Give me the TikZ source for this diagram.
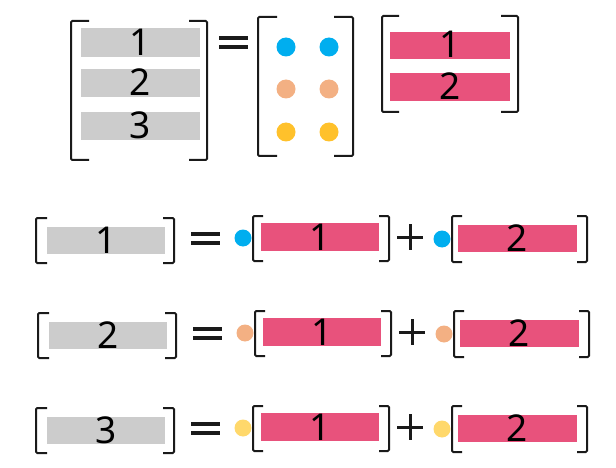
\documentclass[tikz,border=0pt]{standalone}
\usepackage{fontspec}
\setmainfont{Noto Sans}
\definecolor{barg}{HTML}{CCCCCC}
\definecolor{barp}{HTML}{E8527C}
\definecolor{dblue}{HTML}{00AEEF}
\definecolor{dpeach}{HTML}{F3B083}
\definecolor{dyel}{HTML}{FFC12B}
\definecolor{dyellight}{HTML}{FFD86B}
\definecolor{ink}{HTML}{1A1A1A}
\newcommand\mybrk[5]{% x1 y1 x2 y2 serif
  \draw[brk] ({#1+#5},#2) -- (#1,#2) -- (#1,#4) -- ({#1+#5},#4);
  \draw[brk] ({#3-#5},#2) -- (#3,#2) -- (#3,#4) -- ({#3-#5},#4);
}
\tikzset{
  brk/.style={draw=ink, line width=2pt, rounded corners=1.2pt},
  sym/.style={draw=ink, line width=3.4pt},
  bar/.style={rectangle, inner sep=0pt, draw=none},
  num/.style={font=\fontsize{37}{37}\selectfont, text=black, inner sep=0pt, anchor=base},
  dot/.style={circle, inner sep=0pt, draw=none},
}
\begin{document}
\begin{tikzpicture}[x=1pt,y=-1pt]
\useasboundingbox (0,0) rectangle (616,468);
% ---------- top equation ----------
\mybrk{71}{21}{207}{160}{18}
\foreach \i/\ya/\yb in {1/28/57, 2/69/97, 3/112/140}{
  \path[fill=barg] (81,\ya) rectangle (200,\yb);
  \node[bar, minimum width=0pt] (tg\i) at (140.5,\yb) {};
  \node[num] (tgt\i) at ([yshift=1pt]tg\i) {\i};
}
\coordinate (teqa) at (219,38); \coordinate (teqb) at (248,38);
\coordinate (teqc) at (219,47); \coordinate (teqd) at (248,47);
\draw[sym] (teqa) -- (teqb);
\draw[sym] (teqc) -- (teqd);
\mybrk{258}{17}{353}{156}{19}
\foreach \j/\y/\c in {1/47/dblue, 2/89/dpeach, 3/132/dyel}{
  \node[dot, fill=\c, minimum size=19pt] (tda\j) at (286,\y) {};
  \node[dot, fill=\c, minimum size=19pt] (tdb\j) at (329,\y) {};
}
\mybrk{382}{16}{518}{112}{17}
\foreach \i/\ya/\yb in {1/32/59, 2/73/101}{
  \path[fill=barp] (390,\ya) rectangle (510,\yb);
  \node[bar] (tp\i) at (450,\yb) {};
  \node[num] (tpt\i) at ([yshift=1pt]tp\i) {\i};
}
% ---------- rows ----------
\foreach \r/\dy/\dx/\c in {1/0/0/dblue, 2/95/2/dpeach, 3/190/0/dyellight}{
  \mybrk{36+\dx}{218+\dy}{174+\dx}{263+\dy}{11}
  \path[fill=barg] ({47+\dx},{227+\dy}) rectangle ({165+\dx},{254+\dy});
  \node[bar] (rg\r) at ({106+\dx},{254+\dy}) {};
  \node[num] (rgt\r) at ([yshift=1pt]rg\r) {\r};
  % equals
  \coordinate (ea\r) at ({191+\dx},{234+\dy});
  \coordinate (eb\r) at ({220+\dx},{234+\dy});
  \coordinate (ec\r) at ({191+\dx},{243+\dy});
  \coordinate (ed\r) at ({220+\dx},{243+\dy});
  \draw[sym] (ea\r) -- (eb\r);
  \draw[sym] (ec\r) -- (ed\r);
  % first term
  \node[dot, fill=\c, minimum size=17pt] (da\r) at ({243+\dx},{238+\dy}) {};
  \mybrk{253+\dx}{216+\dy}{389+\dx}{261+\dy}{10}
  \path[fill=barp] ({261+\dx},{223+\dy}) rectangle ({379+\dx},{251+\dy});
  \node[bar] (pa\r) at ({320+\dx},{251+\dy}) {};
  \node[num] (pat\r) at ([yshift=1pt]pa\r) {1};
  % plus
  \coordinate (pl\r) at ({397+\dx},{237+\dy});
  \coordinate (pr\r) at ({423+\dx},{237+\dy});
  \coordinate (pt\r) at ({410+\dx},{224+\dy});
  \coordinate (pb\r) at ({410+\dx},{250+\dy});
  \draw[sym, line width=3pt] (pl\r) -- (pr\r);
  \draw[sym, line width=3pt] (pt\r) -- (pb\r);
  % second term
  \node[dot, fill=\c, minimum size=17pt] (db\r) at ({442+\dx},{239+\dy}) {};
  \mybrk{452+\dx}{216+\dy}{587+\dx}{262+\dy}{10}
  \path[fill=barp] ({458+\dx},{225+\dy}) rectangle ({577+\dx},{252+\dy});
  \node[bar] (pb2\r) at ({517.5+\dx},{252+\dy}) {};
  \node[num] (pbt\r) at ([yshift=1pt]pb2\r) {2};
}
\end{tikzpicture}
\end{document}
